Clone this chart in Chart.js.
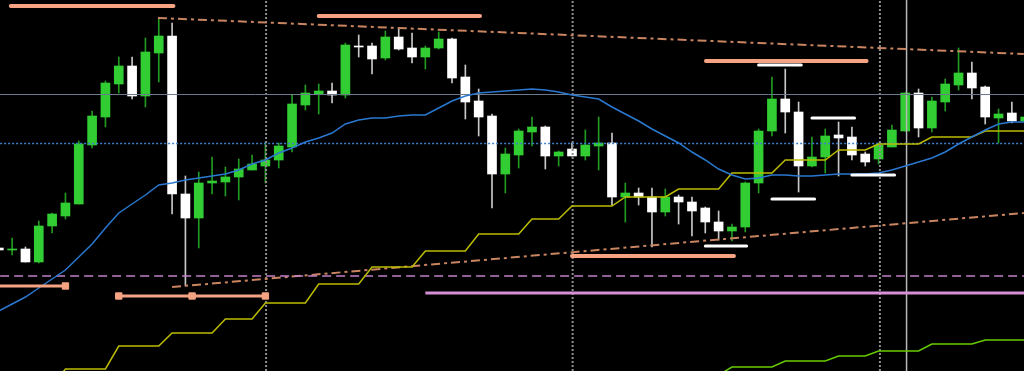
<!DOCTYPE html>
<html lang="en">
<head>
<meta charset="UTF-8">
<title>Chart</title>
<style>
  html, body { margin: 0; padding: 0; background: #000; }
  #wrap { width: 1024px; height: 371px; position: relative; }
</style>
</head>
<body>
<div id="wrap"><canvas id="priceChart"></canvas></div>
<script src="https://cdn.jsdelivr.net/npm/chart.js@4.4.0/dist/chart.umd.min.js"></script>
<script>
// candles, oldest first
const opens = [
  1.3123,1.3121,1.3122,1.3109,1.3145,1.3155,1.3167,1.3226,1.3254,1.3287,
  1.3305,1.3275,1.3318,1.3335,1.3177,1.3153,1.3188,1.3189,1.3194,1.3201,
  1.3205,1.3211,1.3224,1.3266,1.3277,1.3280,1.3276,1.3325,1.3325,1.3313,
  1.3334,1.3323,1.3314,1.3323,1.3332,1.3294,1.3270,1.3255,1.3197,1.3216,
  1.3239,1.3244,1.3215,1.3222,1.3215,1.3225,1.3228,1.3174,1.3178,1.3174,
  1.3159,1.3174,1.3169,1.3163,1.3149,1.3140,1.3144,1.3188,1.3240,1.3272,
  1.3259,1.3205,1.3214,1.3236,1.3234,1.3217,1.3212,1.3224,1.3240,1.3278,
  1.3243,1.3269,1.3286,1.3298,1.3284,1.3253,1.3258,1.3250
];
const highs = [
  1.3124,1.3133,1.3124,1.3150,1.3158,1.3178,1.3230,1.3260,1.3290,1.3314,
  1.3314,1.3333,1.3353,1.3348,1.3195,1.3199,1.3214,1.3204,1.3212,1.3216,
  1.3229,1.3228,1.3276,1.3286,1.3287,1.3288,1.3328,1.3336,1.3328,1.3340,
  1.3343,1.3338,1.3325,1.3339,1.3333,1.3306,1.3282,1.3257,1.3223,1.3242,
  1.3254,1.3245,1.3220,1.3228,1.3241,1.3254,1.3238,1.3188,1.3183,1.3183,
  1.3182,1.3176,1.3174,1.3164,1.3160,1.3147,1.3189,1.3242,1.3294,1.3302,
  1.3269,1.3234,1.3242,1.3249,1.3244,1.3219,1.3228,1.3246,1.3278,1.3282,
  1.3274,1.3292,1.3323,1.3309,1.3285,1.3262,1.3269,1.3256
];
const lows = [
  1.3120,1.3116,1.3109,1.3108,1.3138,1.3152,1.3167,1.3223,1.3244,1.3278,
  1.3272,1.3264,1.3289,1.3157,1.3085,1.3123,1.3177,1.3175,1.3171,1.3201,
  1.3188,1.3203,1.3219,1.3261,1.3257,1.3268,1.3273,1.3314,1.3297,1.3311,
  1.3321,1.3308,1.3302,1.3322,1.3288,1.3252,1.3235,1.3163,1.3178,1.3203,
  1.3225,1.3202,1.3205,1.3215,1.3211,1.3201,1.3166,1.3149,1.3166,1.3124,
  1.3155,1.3147,1.3135,1.3138,1.3131,1.3130,1.3139,1.3178,1.3235,1.3238,
  1.3179,1.3204,1.3198,1.3195,1.3211,1.3205,1.3207,1.3224,1.3240,1.3234,
  1.3239,1.3260,1.3281,1.3272,1.3247,1.3228,1.3248,1.3249
];
const closes = [
  1.3121,1.3122,1.3109,1.3145,1.3157,1.3168,1.3227,1.3255,1.3288,1.3305,
  1.3275,1.3319,1.3335,1.3177,1.3153,1.3188,1.3190,1.3194,1.3202,1.3207,
  1.3211,1.3225,1.3267,1.3278,1.3280,1.3276,1.3326,1.3324,1.3312,1.3334,
  1.3322,1.3314,1.3323,1.3332,1.3293,1.3269,1.3254,1.3197,1.3217,1.3240,
  1.3244,1.3215,1.3219,1.3215,1.3226,1.3228,1.3174,1.3178,1.3174,1.3159,
  1.3174,1.3169,1.3160,1.3149,1.3140,1.3144,1.3188,1.3240,1.3272,1.3259,
  1.3205,1.3214,1.3235,1.3233,1.3216,1.3209,1.3226,1.3241,1.3278,1.3243,
  1.3270,1.3287,1.3298,1.3283,1.3254,1.3257,1.3250,1.3254
];

// moving average (blue)
const movingAvg = [
  1.3060,1.3067,1.3074,1.3083,1.3092,1.3101,1.3114,1.3127,1.3143,1.3158,
  1.3167,1.3176,1.3186,1.3188,1.3191,1.3193,1.3195,1.3197,1.3201,1.3207,
  1.3211,1.3218,1.3223,1.3229,1.3233,1.3238,1.3247,1.3251,1.3253,1.3253,
  1.3255,1.3256,1.3256,1.3263,1.3270,1.3275,1.3278,1.3279,1.3280,1.3281,
  1.3282,1.3281,1.3279,1.3276,1.3274,1.3272,1.3264,1.3257,1.3250,1.3242,
  1.3235,1.3228,1.3219,1.3211,1.3202,1.3196,1.3192,1.3193,1.3196,1.3196,
  1.3195,1.3195,1.3196,1.3197,1.3197,1.3197,1.3198,1.3201,1.3205,1.3209,
  1.3213,1.3219,1.3227,1.3234,1.3241,1.3247,1.3249,1.3249
];

// stepped trailing lines
const yellowStop = [
  1.2981,1.2981,1.2985,1.2985,1.2985,1.3002,1.3002,1.3002,1.3002,1.3025,
  1.3025,1.3025,1.3025,1.3038,1.3038,1.3038,1.3038,1.3052,1.3052,1.3052,
  1.3068,1.3068,1.3068,1.3068,1.3087,1.3087,1.3087,1.3087,1.3104,1.3104,
  1.3104,1.3104,1.3120,1.3120,1.3120,1.3120,1.3137,1.3137,1.3137,1.3137,
  1.3152,1.3152,1.3152,1.3165,1.3165,1.3165,1.3165,1.3174,1.3174,1.3174,
  1.3174,1.3182,1.3182,1.3182,1.3182,1.3198,1.3198,1.3198,1.3198,1.3211,
  1.3211,1.3211,1.3211,1.3221,1.3221,1.3221,1.3227,1.3227,1.3227,1.3227,
  1.3234,1.3234,1.3234,1.3234,1.3240,1.3240,1.3240,1.3240
];
const greenStop = Array(51).fill(null).concat([
  1.2996,1.2996,1.2996,1.2996,1.3004,1.3004,1.3004,1.3004,1.3010,
  1.3010,1.3010,1.3010,1.3015,1.3015,1.3015,1.3020,1.3020,1.3020,1.3020,
  1.3027,1.3027,1.3027,1.3027,1.3031,1.3031,1.3031,1.3031
]);

// horizontal levels
const fullLevels = { gray: 1.32765, blueDotted: 1.32275, pinkDashed: 1.3095 };
const orchidLevel = { price: 1.3078, from: 32, to: 80 };
const salmonLevels = [
  { price: 1.3365, from: 0.9, to: 13.1 },
  { price: 1.3355, from: 24, to: 36.1 },
  { price: 1.3310, from: 53.05, to: 65.1 },
  { price: 1.3115, from: 43, to: 55.15 }
];
const salmonMarked = [
  { price: 1.3085, from: -2, to: 5, marks: [5] },
  { price: 1.3075, from: 9, to: 20, marks: [9, 14.5, 20] }
];
const whiteLevels = [
  { price: 1.3306, from: 57, to: 60.2 },
  { price: 1.3253, from: 61, to: 64.2 },
  { price: 1.3196, from: 64, to: 67.2 },
  { price: 1.3172, from: 58, to: 61.2 },
  { price: 1.3125, from: 53, to: 56.1 }
];
// trend lines (bar, price)
const trendUpper = [[11.94, 1.3353], [76.9, 1.3317]];
const trendLower = [[13.0, 1.3084], [76.9, 1.3158]];
// vertical markers at bars
const dottedVerticals = [20.05, 43.05, 66.1];
const solidVertical = 68.1;

const yMin = 1.3000, yMax = 1.3371;
const GREEN = '#32cd32', GREEN_WICK = '#229a22', WHITE = '#ffffff', WHITE_WICK = '#c8c8c8';
const isUp = i => closes[i] >= opens[i];

function lineSet(points, color, width, dash, order) {
  return {
    type: 'line',
    data: points.map(p => ({ x: p[0], y: p[1] })),
    borderColor: color,
    borderWidth: width,
    borderDash: dash || [],
    pointRadius: 0,
    tension: 0,
    fill: false,
    order: order == null ? 1 : order
  };
}

const datasets = [];

// wicks and bodies as floating bars
datasets.push({
  type: 'bar',
  data: opens.map((o, i) => ({ x: i, y: [lows[i], highs[i]] })),
  backgroundColor: ctx => isUp(ctx.dataIndex) ? GREEN_WICK : WHITE_WICK,
  barThickness: 1,
  grouped: false,
  order: 6
});
datasets.push({
  type: 'bar',
  data: opens.map((o, i) => ({ x: i, y: [Math.min(o, closes[i]), Math.max(o, closes[i])] })),
  backgroundColor: ctx => isUp(ctx.dataIndex) ? GREEN : WHITE,
  barThickness: 9,
  grouped: false,
  order: 5
});

// full width levels
datasets.push(lineSet([[-2, fullLevels.gray], [80, fullLevels.gray]], '#6b7b8c', 1, null, 2));
datasets.push(lineSet([[-2, fullLevels.blueDotted], [80, fullLevels.blueDotted]], '#3f7fd0', 1.5, [2, 2], 2));
datasets.push(lineSet([[-2, fullLevels.pinkDashed], [80, fullLevels.pinkDashed]], '#c080c8', 1.5, [9, 5], 2));
datasets.push(lineSet([[orchidLevel.from, orchidLevel.price], [orchidLevel.to, orchidLevel.price]], '#d690d6', 3, null, 2));

// verticals
dottedVerticals.forEach(v => datasets.push(lineSet([[v, yMin - 0.01], [v, yMax + 0.01]], '#8f8f8f', 2, [2, 2], 3)));
datasets.push(lineSet([[solidVertical, yMin - 0.01], [solidVertical, yMax + 0.01]], '#b8b8b8', 1.5, null, 3));

// trend lines
datasets.push(lineSet(trendUpper, '#c98460', 2, [9, 4, 3, 4], 2));
datasets.push(lineSet(trendLower, '#c98460', 2, [9, 4, 3, 4], 2));

// salmon levels
salmonLevels.forEach(l => {
  const ds = lineSet([[l.from, l.price], [l.to, l.price]], '#f5a383', 4, null, 1);
  ds.borderCapStyle = 'round';
  datasets.push(ds);
});
salmonMarked.forEach(l => {
  datasets.push(lineSet([[l.from, l.price], [l.to, l.price]], '#f5a383', 3, null, 1));
  datasets.push({
    type: 'line',
    data: l.marks.map(m => ({ x: m, y: l.price })),
    showLine: false,
    pointStyle: 'rect',
    pointRadius: 4.5,
    pointBackgroundColor: '#f5a383',
    pointBorderColor: '#f5a383',
    order: 0
  });
});

// white levels
whiteLevels.forEach(l => {
  const ds = lineSet([[l.from, l.price], [l.to, l.price]], '#ffffff', 3, null, 1);
  ds.borderCapStyle = 'round';
  datasets.push(ds);
});

// indicator lines
datasets.push(lineSet(movingAvg.map((v, i) => [i, v]), '#2a78d0', 1.5, null, 1));
datasets.push(lineSet(yellowStop.map((v, i) => [i, v]), '#bcbc00', 1.5, null, 1));
datasets.push(lineSet(greenStop.map((v, i) => [i, v]), '#66cc00', 1.5, null, 1));

new Chart(document.getElementById('priceChart'), {
  type: 'bar',
  data: { datasets: datasets },
  options: {
    responsive: true,
    maintainAspectRatio: false,
    animation: false,
    layout: { padding: 0, autoPadding: false },
    plugins: { legend: { display: false }, tooltip: { enabled: false } },
    scales: {
      x: { type: 'linear', min: 0.09, max: 76.91, display: false, offset: false },
      y: { type: 'linear', min: yMin, max: yMax, display: false }
    }
  }
});
</script>
</body>
</html>
